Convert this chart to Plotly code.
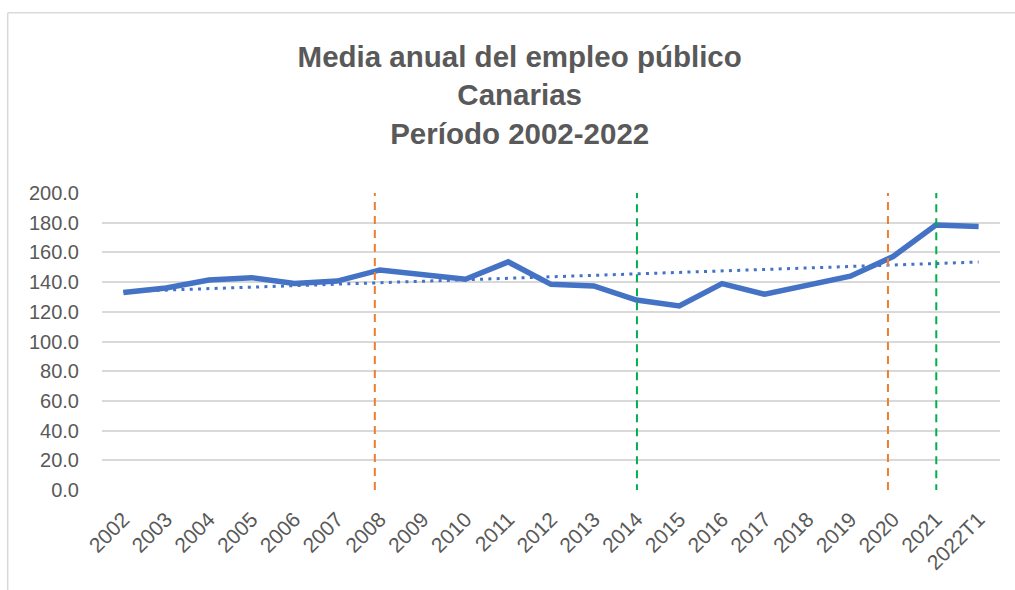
import numpy as np
import plotly.graph_objects as go

categories = ["2002", "2003", "2004", "2005", "2006", "2007", "2008", "2009", "2010",
              "2011", "2012", "2013", "2014", "2015", "2016", "2017", "2018", "2019",
              "2020", "2021", "2022T1"]
empleo = [133.0, 136.0, 141.4, 143.0, 139.0, 140.7, 148.2, 144.6, 141.9, 153.6, 138.5,
          137.4, 127.9, 123.9, 139.0, 131.8, 137.8, 144.0, 157.2, 178.4, 177.5]
y_ticks = [0, 20, 40, 60, 80, 100, 120, 140, 160, 180, 200]
y_tick_labels = [f"{v:.1f}" for v in y_ticks]
orange_marks = ["2008", "2020"]
green_marks = ["2014", "2021"]
title_lines = ["Media anual del empleo público", "Canarias", "Período 2002-2022"]

idx = np.arange(len(categories))
coef = np.polyfit(idx, empleo, 1)
trend = np.polyval(coef, idx)

FONT = "Liberation Sans, Arial, sans-serif"
GREY = "#595959"

fig = go.Figure()
fig.add_trace(go.Scatter(x=idx, y=trend, mode="lines",
                         line=dict(color="#4472C4", width=3, dash="3px,5.3px"),
                         hoverinfo="skip", showlegend=False))
fig.add_trace(go.Scatter(x=idx, y=empleo, mode="lines",
                         line=dict(color="#4472C4", width=5.5),
                         showlegend=False))

shapes = []
for c in orange_marks:
    xi = categories.index(c) - 0.12
    shapes.append(dict(type="line", xref="x", yref="y", x0=xi, x1=xi, y0=0, y1=203,
                       line=dict(color="#ED7D31", width=2, dash="8px,6px")))
for c in green_marks:
    xi = categories.index(c) + 0.01
    shapes.append(dict(type="line", xref="x", yref="y", x0=xi, x1=xi, y0=-1.5, y1=201,
                       line=dict(color="#00B050", width=2, dash="8px,6px")))
# chart border
shapes.append(dict(type="line", xref="paper", yref="paper", x0=-0.105, x1=1.2,
                   y0=1.607, y1=1.607, line=dict(color="#d9d9d9", width=1.5)))
shapes.append(dict(type="line", xref="paper", yref="paper", x0=-0.105, x1=-0.105,
                   y0=1.607, y1=-0.5, line=dict(color="#d9d9d9", width=1.5)))

fig.update_layout(
    width=1015, height=590,
    margin=dict(l=102, r=15, t=193, b=100),
    paper_bgcolor="white", plot_bgcolor="white",
    font=dict(family=FONT, color=GREY),
    shapes=shapes,
    title=dict(text="<b>" + "<br>".join(title_lines) + "</b>",
               x=0.512, xanchor="center", xref="container",
               y=1 - 67 / 590, yanchor="top", yref="container",
               font=dict(family=FONT, size=29.5, color=GREY)),
)
fig.update_xaxes(range=[-0.5, len(categories) - 0.5], tickmode="array",
                 tickvals=list(idx), ticktext=categories, tickangle=-45,
                 showgrid=False, zeroline=False, showline=False,
                 tickfont=dict(family=FONT, size=21, color=GREY),
                 ticklabelstandoff=12)
fig.update_yaxes(range=[0, 200], tickmode="array", tickvals=y_ticks,
                 ticktext=y_tick_labels, showgrid=True, gridcolor="#d9d9d9",
                 gridwidth=1.8, zeroline=False, showline=False,
                 tickfont=dict(family=FONT, size=20, color=GREY),
                 ticklabelstandoff=22)

fig.write_html("out.html", config={"displayModeBar": False},
               post_script="document.body.style.margin='0';")
